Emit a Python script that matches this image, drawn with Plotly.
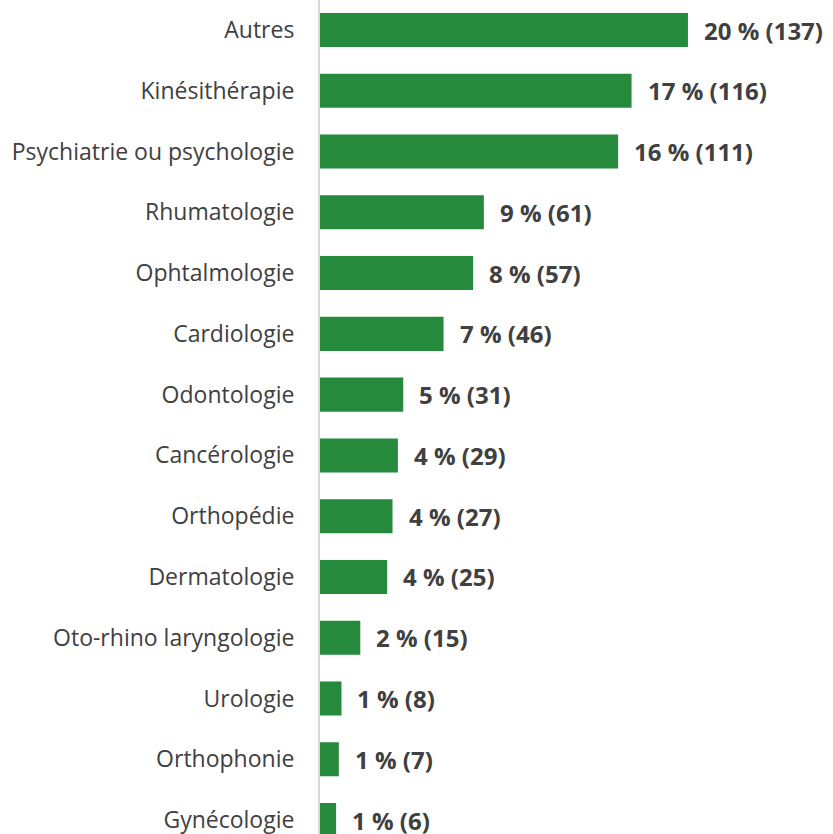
import plotly.graph_objects as go

categories = ["Autres", "Kinésithérapie", "Psychiatrie ou psychologie", "Rhumatologie",
              "Ophtalmologie", "Cardiologie", "Odontologie", "Cancérologie", "Orthopédie",
              "Dermatologie", "Oto-rhino laryngologie", "Urologie", "Orthophonie", "Gynécologie"]
counts = [137, 116, 111, 61, 57, 46, 31, 29, 27, 25, 15, 8, 7, 6]
percents = [20, 17, 16, 9, 8, 7, 5, 4, 4, 4, 2, 1, 1, 1]

ypos = list(range(len(categories)))
font_family = "'Open Sans', sans-serif"

fig = go.Figure(go.Bar(
    x=counts, y=ypos, orientation="h",
    marker=dict(color="#268a3d", line=dict(width=0)),
    width=0.56,
    hoverinfo="skip",
))

annotations = []
for y, c, p in zip(ypos, counts, percents):
    annotations.append(dict(
        x=c, y=y, xref="x", yref="y", text=f"<b>{p} % ({c})</b>",
        showarrow=False, xanchor="left", yanchor="middle", xshift=14,
        font=dict(family=font_family, size=24, color="#404040"),
    ))

fig.update_layout(
    width=833, height=834,
    margin=dict(l=320, r=0, t=0, b=0, autoexpand=False),
    paper_bgcolor="white", plot_bgcolor="white",
    showlegend=False,
    annotations=annotations,
    xaxis=dict(range=[0, 191], visible=False, fixedrange=True, automargin=False),
    yaxis=dict(
        range=[13.23, -0.494], automargin=False,
        tickmode="array", tickvals=ypos, ticktext=categories,
        showline=True, linecolor="#d9d9d9", linewidth=2,
        showgrid=False, zeroline=False, ticks="",
        ticklabelstandoff=19, ticklabeloverflow="allow",
        tickfont=dict(family=font_family, size=23, color="#404040"),
    ),
)

fig.write_html("out.html", config={"displayModeBar": False},
               post_script="document.body.style.margin='0';document.body.style.padding='0';")
